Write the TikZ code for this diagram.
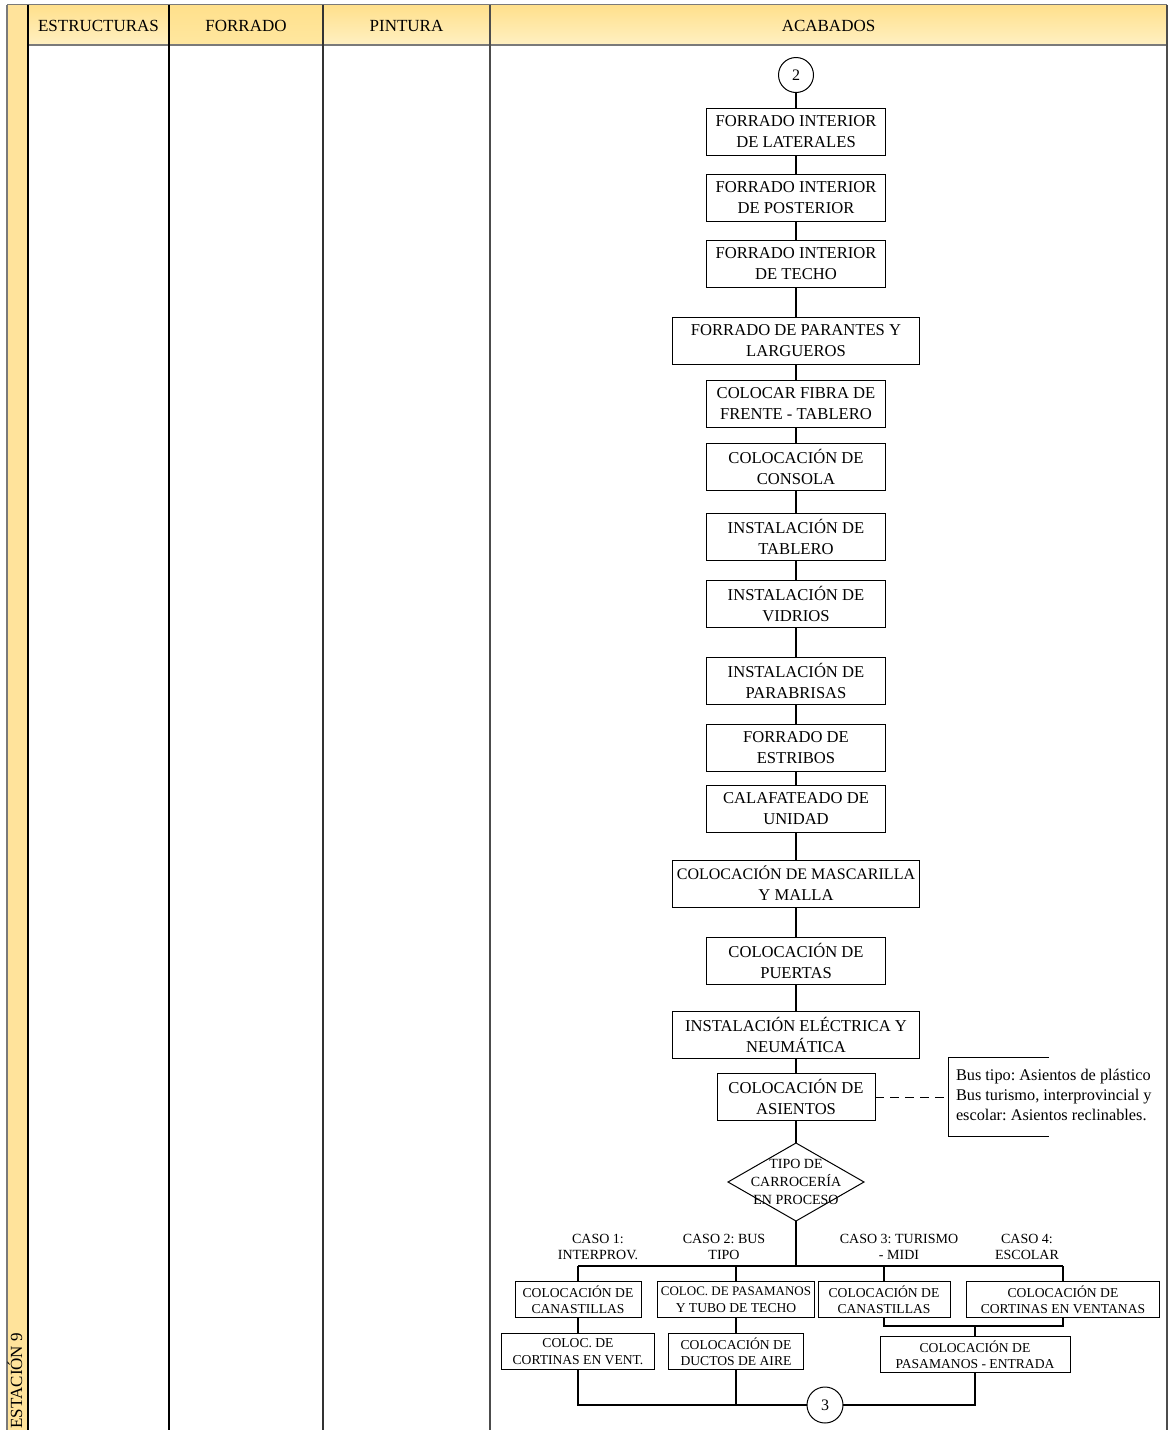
\documentclass[tikz,border=0pt]{standalone}
\usepackage{fontspec}
\setmainfont{Liberation Serif}
\usetikzlibrary{shapes.geometric}
\frenchspacing

\definecolor{hdrtop}{HTML}{FFE08C}
\definecolor{hdrbot}{HTML}{FFF0C2}
\definecolor{hdrmid}{HTML}{FFE7A0}
\definecolor{stripfill}{HTML}{FFE39B}
\definecolor{framegray}{HTML}{7A7A7A}

\begin{document}
\begin{tikzpicture}[x=1pt,y=-1pt,
  every node/.style={inner sep=0pt,outer sep=0pt},
  proc/.style={draw,line width=1pt,fill=white,align=center,
    font=\fontsize{16.6}{21}\selectfont,minimum height=47},
  caseproc/.style={draw,line width=1pt,fill=white,align=center,
    font=\fontsize{13.6}{16.5}\selectfont,minimum height=36},
  caselbl/.style={align=center,font=\fontsize{14}{16}\selectfont},
  hdr/.style={font=\fontsize{17}{20}\selectfont},
  connector/.style={draw,circle,line width=1pt,fill=white,minimum size=35,
    font=\fontsize{16}{18}\selectfont},
  link/.style={line width=1.1pt},
  heavylink/.style={line width=2.2pt},
  notelink/.style={line width=1pt,dash pattern=on 9pt off 6pt},
  gridline/.style={line width=1.4pt}
]
\useasboundingbox (0,0) rectangle (1171,1430);

% ---------- swimlane frame ----------
\fill[stripfill] (7,5) rectangle (28,1430);
\fill[top color=hdrtop,bottom color=hdrbot] (28,5) rectangle (169,45);
\fill[top color=hdrtop,bottom color=hdrmid] (169,5) rectangle (323,45);
\fill[top color=hdrtop,bottom color=hdrbot] (323,5) rectangle (490,45);
\fill[top color=hdrtop,bottom color=hdrbot] (490,5) rectangle (1167,45);

\draw[gridline,framegray] (7,4.5) -- (1167,4.5);
\draw[gridline,framegray] (28,45) -- (1167,45);
\draw[gridline,framegray] (7,4.5) -- (7,1430);
\draw[gridline,black] (28,4.5) -- (28,1430);
\draw[gridline,black] (169,4.5) -- (169,1430);
\draw[gridline,black!80] (323,4.5) -- (323,1430);
\draw[gridline,black!70] (490,4.5) -- (490,1430);
\draw[line width=2pt,black!70] (1167,4.5) -- (1167,1430);

\node[hdr] (hEst) at (98.5,25.5) {ESTRUCTURAS};
\node[hdr] (hFor) at (246,25.5) {FORRADO};
\node[hdr] (hPin) at (406.5,25.5) {PINTURA};
\node[hdr] (hAca) at (828.5,25.5) {ACABADOS};

\node[hdr,rotate=90,anchor=base east] (lane) at (22,1333) {ESTACIÓN 9};

% ---------- main sequence ----------
\node[connector] (c2) at (796,75) {2};
\node[proc,minimum width=179] (p1) at (796,132) {FORRADO INTERIOR\\DE LATERALES};
\node[proc,minimum width=179] (p2) at (796,198) {FORRADO INTERIOR\\DE POSTERIOR};
\node[proc,minimum width=179] (p3) at (796,264) {FORRADO INTERIOR\\DE TECHO};
\node[proc,minimum width=247] (p4) at (796,340.5) {FORRADO DE PARANTES Y\\LARGUEROS};
\node[proc,minimum width=179] (p5) at (796,403.5) {COLOCAR FIBRA DE\\FRENTE - TABLERO};
\node[proc,minimum width=179] (p6) at (796,467) {COLOCACIÓN DE\\CONSOLA};
\node[proc,minimum width=179] (p7) at (796,536.5) {INSTALACIÓN DE\\TABLERO};
\node[proc,minimum width=179] (p8) at (796,603.5) {INSTALACIÓN DE\\VIDRIOS};
\node[proc,minimum width=179] (p9) at (796,680.5) {INSTALACIÓN DE\\PARABRISAS};
\node[proc,minimum width=179] (p10) at (796,747.5) {FORRADO DE\\ESTRIBOS};
\node[proc,minimum width=179] (p11) at (796,809) {CALAFATEADO DE\\UNIDAD};
\node[proc,minimum width=247] (p12) at (796,883.5)
  {\fontsize{16}{21}\selectfont COLOCACIÓN DE MASCARILLA\\Y MALLA};
\node[proc,minimum width=179] (p13) at (796,960.5) {COLOCACIÓN DE\\PUERTAS};
\node[proc,minimum width=247] (p14) at (796,1034.5) {INSTALACIÓN ELÉCTRICA Y\\NEUMÁTICA};
\node[proc,minimum width=158] (p15) at (796,1097) {COLOCACIÓN DE\\ASIENTOS};

\foreach \a/\b in {c2/p1,p1/p2,p2/p3,p3/p4,p4/p5,p5/p6,p6/p7,p7/p8,p8/p9,
                   p9/p10,p10/p11,p11/p12,p12/p13,p13/p14,p14/p15}
  \draw[link] (\a) -- (\b);

% ---------- seat note ----------
\draw[line width=1pt] (1049,1057) -- (948,1057) -- (948,1136) -- (1049,1136);
\coordinate (noteedge) at (948,1097);
\node[align=left,anchor=west,font=\fontsize{16.3}{20}\selectfont] (note) at (956,1095)
  {Bus tipo: Asientos de plástico\\Bus turismo, interprovincial y\\escolar: Asientos reclinables.};
\draw[notelink] (p15) -- (noteedge);

% ---------- decision ----------
\node[draw,diamond,line width=1pt,fill=white,minimum width=136,minimum height=78] (dec) at (796,1182) {};
\node[align=center,font=\fontsize{14}{18}\selectfont] (dectext) at (796,1182)
  {TIPO DE\\CARROCERÍA\\EN PROCESO};
\draw[link] (p15) -- (dec);

\coordinate (split) at (796,1266);
\coordinate (br1) at (578,1266);
\coordinate (br2) at (736,1266);
\coordinate (br3) at (884,1266);
\coordinate (br4) at (1063,1266);
\draw[heavylink] (dec.south) -- (split);
\draw[link] (br1) -- (br4);

\node[caselbl] (l1) at (598,1247) {CASO 1:\\INTERPROV.};
\node[caselbl] (l2) at (724,1247) {CASO 2: BUS\\TIPO};
\node[caselbl] (l3) at (899,1247) {CASO 3: TURISMO\\- MIDI};
\node[caselbl] (l4) at (1027,1247) {CASO 4:\\ESCOLAR};

% ---------- cases ----------
\node[caseproc,minimum width=126] (k1a) at (578,1299.5) {COLOCACIÓN DE\\CANASTILLAS};
\node[caseproc,minimum width=157] (k2a) at (736,1299.5)
  {\fontsize{13}{16.5}\selectfont COLOC. DE PASAMANOS\\Y TUBO DE TECHO};
\node[caseproc,minimum width=132] (k3a) at (884,1299.5) {COLOCACIÓN DE\\CANASTILLAS};
\node[caseproc,minimum width=193] (k4a) at (1063,1299.5) {COLOCACIÓN DE\\CORTINAS EN VENTANAS};

\node[caseproc,minimum width=153] (k1b) at (578,1351.5) {COLOC. DE\\CORTINAS EN VENT.};
\node[caseproc,minimum width=135] (k2b) at (736,1351.5) {COLOCACIÓN DE\\DUCTOS DE AIRE};
\node[caseproc,minimum width=190] (k34b) at (975,1354.5) {COLOCACIÓN DE\\PASAMANOS - ENTRADA};

\draw[link] (br1) -- (k1a);
\draw[link] (br2) -- (k2a);
\draw[link] (br3) -- (k3a);
\draw[link] (br4) -- (k4a);
\draw[link] (k1a) -- (k1b);
\draw[link] (k2a) -- (k2b);

\coordinate (merge) at (975,1326);
\draw[link] (k3a) |- (merge) -| (k4a);
\draw[link] (merge) -- (k34b);

% ---------- closing connector ----------
\node[connector,minimum size=36] (c3) at (825,1405) {3};
\coordinate (join) at (736,1405);
\draw[link] (k1b) |- (join);
\draw[link] (k2b) -- (join);
\draw[heavylink] (join) -- (c3);
\draw[link] (k34b) |- (c3);
\end{tikzpicture}
\end{document}
